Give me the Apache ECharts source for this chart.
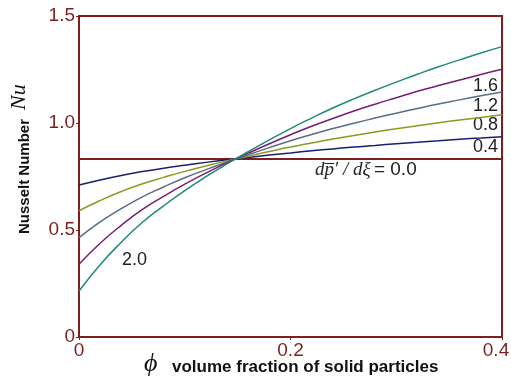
<!DOCTYPE html>
<html>
<head>
<meta charset="utf-8">
<script src="https://cdn.jsdelivr.net/npm/echarts@6/dist/echarts.min.js"></script>
<style>
  html, body { margin: 0; padding: 0; background: #fff; }
  #chart { width: 511px; height: 377px; }
</style>
</head>
<body>
<div id="chart"></div>
<script>
// volume fraction phi
var phi = [0, 0.02, 0.04, 0.06, 0.08, 0.10, 0.12, 0.14, 0.16, 0.18, 0.20,
  0.22, 0.24, 0.26, 0.28, 0.30, 0.32, 0.34, 0.36, 0.38, 0.40];

// Nusselt number for each pressure gradient dp'/dxi
var nu00 = [0.832, 0.832];
var nu04 = [0.710, 0.734, 0.755, 0.773, 0.789, 0.803, 0.816, 0.828, 0.839, 0.850, 0.860,
  0.870, 0.879, 0.888, 0.895, 0.903, 0.910, 0.917, 0.924, 0.930, 0.936];
var nu08 = [0.590, 0.638, 0.680, 0.716, 0.746, 0.774, 0.799, 0.823, 0.845, 0.867, 0.888,
  0.907, 0.925, 0.942, 0.958, 0.973, 0.987, 1.001, 1.014, 1.026, 1.038];
var nu12 = [0.464, 0.538, 0.600, 0.655, 0.701, 0.744, 0.782, 0.818, 0.852, 0.885, 0.917,
  0.946, 0.974, 0.999, 1.023, 1.046, 1.068, 1.089, 1.108, 1.127, 1.145];
var nu16 = [0.340, 0.438, 0.522, 0.596, 0.657, 0.714, 0.766, 0.814, 0.859, 0.903, 0.945,
  0.985, 1.021, 1.056, 1.088, 1.118, 1.148, 1.175, 1.201, 1.227, 1.251];
var nu20 = [0.215, 0.338, 0.443, 0.536, 0.613, 0.684, 0.749, 0.809, 0.866, 0.921, 0.974,
  1.023, 1.070, 1.113, 1.153, 1.191, 1.228, 1.263, 1.295, 1.327, 1.357];

var xTicks = [0, 0.2, 0.4];
var yTicks = [0, 0.5, 1.0, 1.5];

var maroon = "#7d1f1f";

function pairs(xs, ys) {
  return ys.map(function (v, i) { return [xs[i], v]; });
}

function curve(name, data, color) {
  return {
    name: name,
    type: "line",
    data: data,
    symbol: "none",
    smooth: true,
    lineStyle: { color: color, width: 1.5 },
    z: 3
  };
}

function tickText(v) {
  return v === 0 ? "0" : v.toFixed(1);
}

var myChart = echarts.init(document.getElementById("chart"));
myChart.setOption({
  animation: false,
  grid: {
    left: 79,
    right: 9,
    top: 16,
    bottom: 40,
    containLabel: false,
    outerBoundsMode: "none",
    show: true,
    borderColor: maroon,
    borderWidth: 2
  },
  xAxis: {
    type: "value",
    min: xTicks[0],
    max: xTicks[xTicks.length - 1],
    interval: 0.2,
    axisLine: { lineStyle: { color: maroon, width: 2 } },
    axisTick: { show: true, length: 3, lineStyle: { color: maroon } },
    splitLine: { show: false },
    axisLabel: {
      color: maroon,
      fontSize: 19,
      fontFamily: "Arial",
      margin: 4,
      // last label sits a bit left so it stays inside the picture
      formatter: function (v) {
        return v === xTicks[xTicks.length - 1] ? "{r|" + tickText(v) + "}" : tickText(v);
      },
      rich: {
        r: { color: maroon, fontSize: 19, fontFamily: "Arial", padding: [0, 12, 0, 0] }
      }
    }
  },
  yAxis: {
    type: "value",
    min: yTicks[0],
    max: yTicks[yTicks.length - 1],
    interval: 0.5,
    axisLine: { show: true, lineStyle: { color: maroon, width: 2 } },
    axisTick: { show: true, length: 3, lineStyle: { color: maroon } },
    splitLine: { show: false },
    axisLabel: {
      color: maroon,
      fontSize: 19,
      fontFamily: "Arial",
      margin: 4,
      formatter: tickText
    }
  },
  series: [
    {
      name: "0.0",
      type: "line",
      data: [[0, nu00[0]], [0.4, nu00[1]]],
      symbol: "none",
      lineStyle: { color: maroon, width: 2 },
      z: 2
    },
    curve("0.4", pairs(phi, nu04), "#1c1f6e"),
    curve("0.8", pairs(phi, nu08), "#8d9a22"),
    curve("1.2", pairs(phi, nu12), "#5a6c88"),
    curve("1.6", pairs(phi, nu16), "#7a1c78"),
    curve("2.0", pairs(phi, nu20), "#1f8a78")
  ],
  graphic: [
    {
      type: "text",
      left: 122, top: 251,
      style: { text: "2.0", fill: "#222", font: "18px Arial" }
    },
    {
      type: "text",
      right: 13, top: 77,
      style: { text: "1.6", fill: "#222", font: "18px Arial" }
    },
    {
      type: "text",
      right: 13, top: 97,
      style: { text: "1.2", fill: "#222", font: "18px Arial" }
    },
    {
      type: "text",
      right: 13, top: 116,
      style: { text: "0.8", fill: "#222", font: "18px Arial" }
    },
    {
      type: "text",
      right: 13, top: 138,
      style: { text: "0.4", fill: "#222", font: "18px Arial" }
    },
    {
      type: "text",
      left: 315, top: 160,
      style: {
        text: "{i|dp\u0305\u2032 / d\u03be} {n|= 0.0}",
        rich: {
          i: { fill: "#222", font: "italic 19px 'Liberation Serif'" },
          n: { fill: "#222", font: "19px Arial" }
        }
      }
    },
    {
      type: "text",
      x: 32, y: 234,
      rotation: Math.PI / 2,
      style: {
        text: "Nusselt Number",
        fill: "#111",
        font: "bold 15px 'Liberation Sans Narrow', Arial",
        verticalAlign: "bottom"
      }
    },
    {
      type: "text",
      x: 30, y: 110,
      rotation: Math.PI / 2,
      style: {
        text: "Nu",
        fill: "#111",
        font: "italic 22px 'Liberation Serif'",
        verticalAlign: "bottom"
      }
    },
    {
      type: "text",
      left: 144, top: 351,
      style: { text: "\u03d5", fill: "#111", font: "italic 26px 'Liberation Serif'" }
    },
    {
      type: "text",
      left: 172, top: 359,
      style: { text: "volume fraction of solid particles", fill: "#111", font: "bold 17px Arial" }
    }
  ]
});
window.addEventListener("resize", function () {
  myChart.resize();
});
</script>
</body>
</html>
